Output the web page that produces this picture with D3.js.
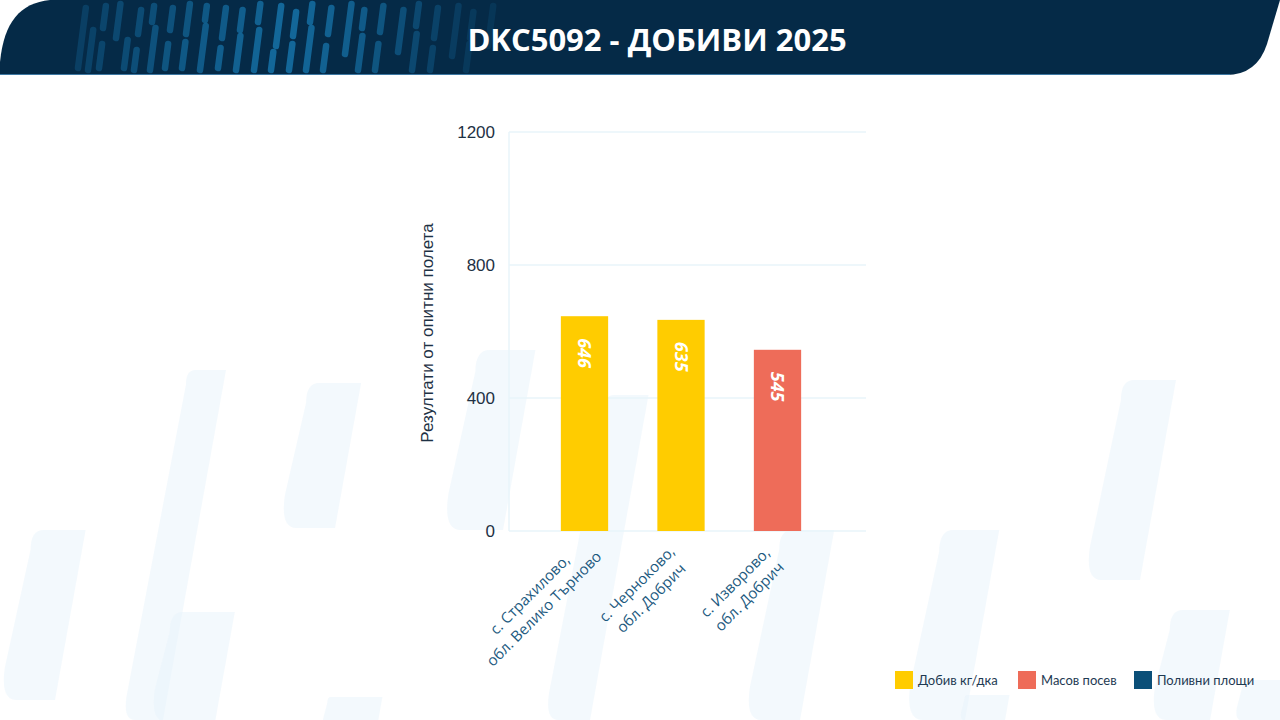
<!DOCTYPE html>
<html>
<head>
<meta charset="utf-8">
<script src="https://cdn.jsdelivr.net/npm/d3@7"></script>
<style>
  body { margin: 0; background: #fff; }
  svg { display: block; }
</style>
</head>
<body>
<script>
// chart data
var categories = [
    ["с. Страхилово,", "обл. Велико Търново"],
    ["с. Черноково,", "обл. Добрич"],
    ["с. Изворово,", "обл. Добрич"]
];
var yields = [646, 635, 545];
var barType = ["Добив кг/дка", "Добив кг/дка", "Масов посев"];
var yTicks = [0, 400, 800, 1200];
var legendLabels = ["Добив кг/дка", "Масов посев", "Поливни площи"];
var legendColors = ["#ffcc00", "#ee6c59", "#0b4f78"];

// decoration only: faint slanted stripes in the background, and the dashes in the header
var bgStripes = [
    [123, 370, 40, 350], [280, 383, 55, 145], [0, 530, 55, 170], [150, 612, 65, 110],
    [322, 697, 55, 30], [443, 350, 60, 180], [545, 395, 45, 325], [745, 530, 55, 190],
    [905, 530, 60, 190], [1085, 380, 55, 200], [1150, 610, 60, 110], [1235, 680, 50, 40],
    [960, 695, 45, 25]
];
var headerDashes = [
    [78, 8, 60, 0.35], [88, 30, 40, 0.4], [103, 6, 22, 0.45], [99, 44, 24, 0.45],
    [116, 4, 34, 0.5], [124, 40, 28, 0.55], [138, 10, 24, 0.55], [134, 50, 20, 0.6],
    [152, 6, 16, 0.6], [150, 28, 42, 0.65], [170, 8, 22, 0.65], [165, 44, 24, 0.7],
    [186, 4, 30, 0.7], [182, 42, 26, 0.75], [205, 6, 14, 0.75], [200, 26, 44, 0.8],
    [222, 8, 30, 0.8], [218, 48, 20, 0.85], [240, 10, 20, 0.85], [236, 36, 34, 0.9],
    [258, 4, 18, 0.9], [254, 30, 40, 0.95], [276, 6, 40, 1], [271, 52, 18, 1],
    [293, 12, 24, 1], [289, 44, 26, 1], [310, 4, 18, 0.95], [306, 28, 42, 0.95],
    [328, 8, 26, 0.9], [323, 46, 24, 0.9], [345, 4, 50, 0.85], [362, 10, 18, 0.8],
    [358, 36, 34, 0.8], [380, 6, 26, 0.7], [375, 44, 26, 0.7], [398, 10, 42, 0.6],
    [416, 4, 22, 0.5], [412, 34, 36, 0.5], [434, 8, 30, 0.4], [430, 48, 22, 0.4],
    [452, 6, 50, 0.3], [470, 12, 26, 0.25], [466, 44, 26, 0.25], [488, 6, 40, 0.2]
];

var width = 1280, height = 720;

var svg = d3.select("body").append("svg")
    .attr("width", width)
    .attr("height", height);

svg.append("rect")
    .attr("width", width)
    .attr("height", height)
    .attr("fill", "#ffffff");

// background stripes (rounded-ish slanted shapes)
svg.selectAll(".bg-stripe")
    .data(bgStripes)
    .enter()
    .append("path")
    .attr("class", "bg-stripe")
    .attr("d", function(d) {
        var x = d[0], y = d[1], w = d[2], h = d[3];
        var s = h * 0.18; // slant
        var r = Math.min(w * 0.6, h * 0.3);
        return "M" + (x + s + r * 0.4) + "," + y + " L" + (x + s + w) + "," + y +
            " L" + (x + w) + "," + (y + h) + " L" + (x + r * 0.5) + "," + (y + h) +
            " Q" + x + "," + (y + h) + " " + (x + r * 0.15) + "," + (y + h - r) +
            " L" + (x + s) + "," + (y + r * 0.6) +
            " Q" + (x + s) + "," + y + " " + (x + s + r * 0.4) + "," + y + " Z";
    })
    .attr("fill", "#e8f4fb")
    .attr("opacity", 0.5);

// header
svg.append("path")
    .attr("d", "M0,75 L0,62 C4,22 20,3 50,0 L1280,0 L1267,44 Q1257,75 1226,75 Z")
    .attr("fill", "#052a47");

svg.append("line")
    .attr("x1", 0).attr("x2", 1230)
    .attr("y1", 74.5).attr("y2", 74.5)
    .attr("stroke", "#3d78a3")
    .attr("stroke-width", 1);

svg.selectAll(".dash")
    .data(headerDashes)
    .enter()
    .append("line")
    .attr("class", "dash")
    .attr("x1", function(d) { return d[0]; })
    .attr("y1", function(d) { return d[1] + d[2]; })
    .attr("x2", function(d) { return d[0] + d[2] * 0.13; })
    .attr("y2", function(d) { return d[1]; })
    .attr("stroke", "#1672a8")
    .attr("stroke-width", 6.5)
    .attr("stroke-linecap", "round")
    .attr("opacity", function(d) { return d[3] * 0.85; });

svg.append("text")
    .attr("x", 657)
    .attr("y", 51)
    .attr("text-anchor", "middle")
    .attr("fill", "#ffffff")
    .style("font-family", "'Open Sans', 'Noto Sans', sans-serif")
    .style("font-weight", "700")
    .style("font-size", "31px")
    .text("DKC5092 - ДОБИВИ 2025");

// scales
var y = d3.scaleLinear()
    .domain([0, 1200])
    .range([531, 132]);

var x = d3.scaleBand()
    .domain(d3.range(categories.length))
    .range([536.25, 825.75])
    .paddingInner(0.51)
    .paddingOuter(0.255);

var color = d3.scaleOrdinal()
    .domain(legendLabels)
    .range(legendColors);

// gridlines
svg.selectAll(".grid")
    .data(yTicks)
    .enter()
    .append("line")
    .attr("class", "grid")
    .attr("x1", 509).attr("x2", 866)
    .attr("y1", function(d) { return y(d); })
    .attr("y2", function(d) { return y(d); })
    .attr("stroke", "#e9f4fa")
    .attr("stroke-width", 1.5);

svg.append("line")
    .attr("x1", 509).attr("x2", 509)
    .attr("y1", y(1200)).attr("y2", y(0))
    .attr("stroke", "#e9f4fa")
    .attr("stroke-width", 1.5);

// y axis tick labels
var yAxis = d3.axisLeft(y)
    .tickValues(yTicks)
    .tickSize(0)
    .tickPadding(0)
    .tickFormat(d3.format("d"));

var yG = svg.append("g")
    .attr("transform", "translate(495,0)")
    .call(yAxis);
yG.select(".domain").remove();
yG.selectAll("text")
    .attr("fill", "#1e3144")
    .style("font-family", "'Liberation Sans', Arial, sans-serif")
    .style("font-size", "17px");

// axis title
svg.append("text")
    .attr("transform", "translate(433,333) rotate(-90)")
    .attr("text-anchor", "middle")
    .attr("fill", "#1e3144")
    .style("font-family", "'Liberation Sans', Arial, sans-serif")
    .style("font-size", "17px")
    .text("Резултати от опитни полета");

// bars
svg.selectAll(".bar")
    .data(yields)
    .enter()
    .append("rect")
    .attr("class", "bar")
    .attr("x", function(d, i) { return x(i); })
    .attr("y", function(d) { return y(d); })
    .attr("width", x.bandwidth())
    .attr("height", function(d) { return y(0) - y(d); })
    .attr("fill", function(d, i) { return color(barType[i]); });

// value labels, rotated
svg.selectAll(".value-label")
    .data(yields)
    .enter()
    .append("text")
    .attr("class", "value-label")
    .attr("transform", function(d, i) {
        return "translate(" + (x(i) + x.bandwidth() / 2) + "," + (y(d) + 22) + ") rotate(90)";
    })
    .attr("dy", "0.36em")
    .attr("fill", "#ffffff")
    .style("font-family", "'Open Sans', 'Noto Sans', sans-serif")
    .style("font-weight", "700")
    .style("font-style", "italic")
    .style("font-size", "18px")
    .text(function(d) { return d; });

// category labels, rotated -45 and centred line by line
var lineH = 20;
svg.selectAll(".cat-label")
    .data(categories)
    .enter()
    .append("g")
    .attr("class", "cat-label")
    .each(function(d, i) {
        var g = d3.select(this);
        var texts = g.selectAll("text")
            .data(d)
            .enter()
            .append("text")
            .attr("y", function(t, j) { return j * lineH - (d.length - 1) * lineH / 2; })
            .attr("dy", "0.35em")
            .attr("text-anchor", "middle")
            .attr("fill", "#1d5a80")
            .style("font-family", "'Open Sans', 'Noto Sans', sans-serif")
            .style("font-size", "15px")
            .text(function(t) { return t; });
        var maxW = 0;
        texts.each(function() { maxW = Math.max(maxW, this.getComputedTextLength()); });
        // block centre sits a bit further in for shorter labels
        texts.attr("x", -36.8 - 0.27 * maxW);
        g.attr("transform", "translate(" + (x(i) + x.bandwidth() / 2 + 8) + ",546) rotate(-45)");
    });

// legend
var legend = svg.selectAll(".legend")
    .data(legendLabels)
    .enter()
    .append("g")
    .attr("class", "legend")
    .attr("transform", function(d, i) {
        return "translate(" + [895, 1018, 1134][i] + ",671)";
    });

legend.append("rect")
    .attr("width", 18)
    .attr("height", 18)
    .attr("fill", function(d) { return color(d); });

legend.append("text")
    .attr("x", 23)
    .attr("y", 9)
    .attr("dy", "0.35em")
    .attr("fill", "#1e3a52")
    .style("font-family", "Lato, 'Noto Sans', sans-serif")
    .style("font-size", "13px")
    .text(function(d) { return d; });
</script>
</body>
</html>
